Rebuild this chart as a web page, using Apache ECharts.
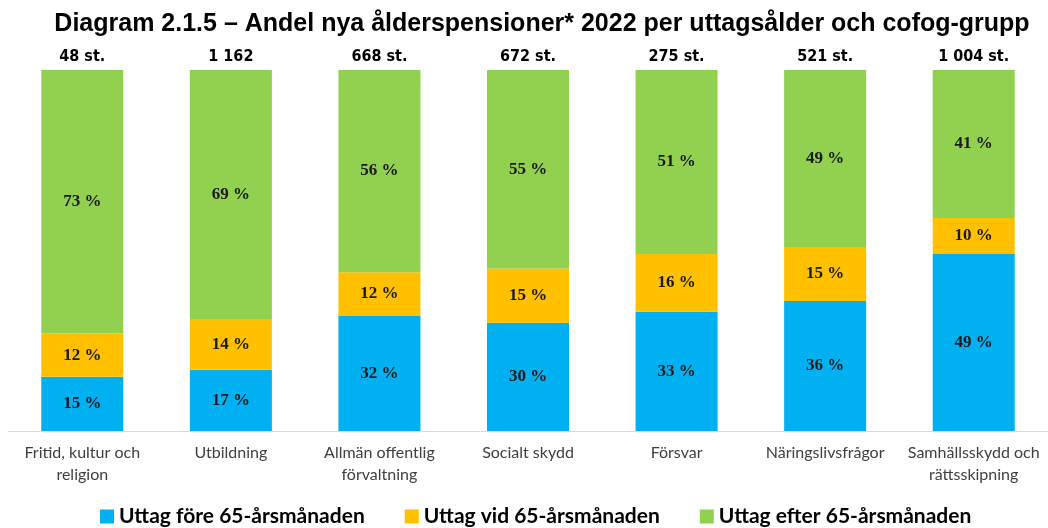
<!DOCTYPE html>
<html>
<head>
<meta charset="utf-8">
<script src="https://cdn.jsdelivr.net/npm/echarts@6/dist/echarts.min.js"></script>
<style>
  html, body { margin: 0; padding: 0; background: #fff; }
  #chart { width: 1048px; height: 528px; }
</style>
</head>
<body>
<div id="chart"></div>
<script>
// data
const categories = ['Fritid, kultur och\nreligion', 'Utbildning', 'Allmän offentlig\nförvaltning', 'Socialt skydd', 'Försvar', 'Näringslivsfrågor', 'Samhällsskydd och\nrättsskipning'];
const totals = ['48 st.', '1 162', '668 st.', '672 st.', '275 st.', '521 st.', '1 004 st.'];
const fore = [15, 17, 32, 30, 33, 36, 49];
const vid = [12, 14, 12, 15, 16, 15, 10];
const efter = [73, 69, 56, 55, 51, 49, 41];
const seriesNames = ['Uttag före 65-årsmånaden', 'Uttag vid 65-årsmånaden', 'Uttag efter 65-årsmånaden'];
const colors = ['#00B0F0', '#FFC000', '#92D050'];

function barSeries(name, data, color) {
  return {
    name: name,
    type: 'bar',
    stack: 'total',
    data: data,
    barWidth: 82,
    itemStyle: {color: color},
    label: {
      show: true,
      position: 'inside',
      formatter: '{c} %',
      fontFamily: 'Liberation Serif',
      fontWeight: 'bold',
      fontSize: 17,
      color: '#1a1a1a'
    }
  };
}

let chart = echarts.init(document.getElementById('chart'));
let option = {
  animation: false,
  title: {
    text: 'Diagram 2.1.5 – Andel nya ålderspensioner* 2022 per uttagsålder och cofog-grupp',
    left: 537,
    textAlign: 'center',
    top: 7,
    textStyle: {fontFamily: 'Liberation Sans', fontWeight: 'bold', fontSize: 25, color: '#000'}
  },
  legend: {
    bottom: -4,
    left: 95,
    itemWidth: 14,
    itemHeight: 14,
    itemGap: 40,
    icon: 'rect',
    textStyle: {fontFamily: 'Lato', fontWeight: 'bold', fontSize: 21, color: '#000'}
  },
  grid: {left: 8, top: 70, width: 1047, bottom: 97, containLabel: false},
  xAxis: [
    {
      type: 'category',
      data: categories,
      axisLine: {lineStyle: {color: '#d9d9d9'}},
      axisTick: {show: false},
      axisLabel: {fontFamily: 'Lato', fontSize: 16, color: '#404040', lineHeight: 22, margin: 11, interval: 0}
    },
    {
      type: 'category',
      position: 'top',
      data: totals,
      axisLine: {show: false},
      axisTick: {show: false},
      axisLabel: {fontFamily: 'Liberation Sans Narrow, DejaVu Sans Condensed, Liberation Sans', fontWeight: 'bold', fontSize: 16, color: '#000', margin: 5, interval: 0}
    }
  ],
  yAxis: {type: 'value', min: 0, max: 100, show: false},
  series: [
    barSeries(seriesNames[0], fore, colors[0]),
    barSeries(seriesNames[1], vid, colors[1]),
    barSeries(seriesNames[2], efter, colors[2])
  ]
};
chart.setOption(option);
</script>
</body>
</html>
